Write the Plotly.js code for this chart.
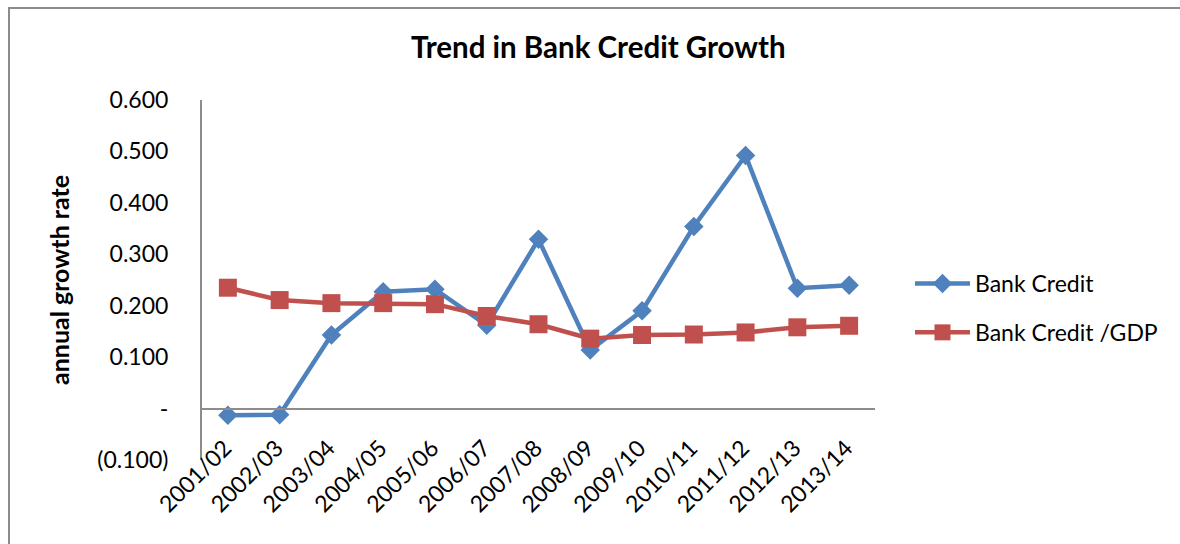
<!DOCTYPE html>
<html>
<head>
<meta charset="utf-8">
<script src="https://cdn.plot.ly/plotly-3.0.1.min.js"></script>
<style>
  html, body { margin: 0; padding: 0; background: #fff; }
  #wrap { position: relative; width: 1180px; height: 544px; overflow: hidden; }
  #chart { position: absolute; left: 0; top: 0; width: 1180px; height: 544px; }
  #frame { position: absolute; left: 8px; top: 7px; width: 1200px; height: 600px;
           border-left: 2px solid #8c8c8c; border-top: 2px solid #8c8c8c; pointer-events: none; }
</style>
</head>
<body>
<div id="wrap">
  <div id="chart"></div>
  <div id="frame"></div>
</div>
<script>
const years = ["2001/02","2002/03","2003/04","2004/05","2005/06","2006/07","2007/08",
               "2008/09","2009/10","2010/11","2011/12","2012/13","2013/14"];
const bankCredit = [-0.013, -0.012, 0.143, 0.227, 0.232, 0.162, 0.329,
                    0.114, 0.190, 0.354, 0.492, 0.234, 0.240];
const bankCreditGDP = [0.235, 0.211, 0.205, 0.205, 0.203, 0.180, 0.164,
                       0.136, 0.143, 0.144, 0.148, 0.158, 0.161];
const yTickVals = [-0.1, 0, 0.1, 0.2, 0.3, 0.4, 0.5, 0.6];
const yTickText = ["(0.100)", "-", "0.100", "0.200", "0.300", "0.400", "0.500", "0.600"];

const font = "Lato, 'Open Sans', sans-serif";
const yMin = -0.1, yMax = 0.6;

const traces = [
  {
    x: years, y: bankCredit, name: "Bank Credit", type: "scatter", mode: "lines+markers",
    legendgroup: "a",
    line: { color: "#4F81BD", width: 4.5 },
    marker: { symbol: "diamond", size: 15, color: "#4F81BD" }
  },
  {
    x: years, y: bankCreditGDP, name: "Bank Credit /GDP", type: "scatter", mode: "lines+markers",
    legendgroup: "b",
    line: { color: "#C0504D", width: 4.5 },
    marker: { symbol: "square", size: 18, color: "#C0504D" }
  }
];

const layout = {
  width: 1180, height: 544,
  margin: { l: 202, r: 305, t: 100, b: 84 },
  paper_bgcolor: "#fff", plot_bgcolor: "#fff",
  font: { family: font, size: 23, color: "#000" },
  title: {
    text: "<b>Trend in Bank Credit Growth</b>",
    font: { family: font, size: 29.5, color: "#000" },
    xref: "container", x: 0.507, xanchor: "center",
    yref: "container", y: 0.913, yanchor: "middle"
  },
  showlegend: true,
  legend: {
    x: 1.052, xanchor: "left", y: 0.55, yanchor: "top",
    font: { family: font, size: 23, color: "#000" },
    traceorder: "grouped", tracegroupgap: 16,
    itemwidth: 55,
    bgcolor: "rgba(0,0,0,0)"
  },
  xaxis: {
    type: "category",
    anchor: "free", position: (0 - yMin) / (yMax - yMin),
    showgrid: false, zeroline: false,
    showline: true, linecolor: "#8c8c8c", linewidth: 2,
    ticks: "", tickangle: -45,
    tickfont: { family: font, size: 23, color: "#000" },
    range: [-0.5, 12.5],
    fixedrange: true
  },
  yaxis: {
    range: [yMin, yMax],
    tickvals: yTickVals, ticktext: yTickText,
    showgrid: false, zeroline: false,
    showline: true, linecolor: "#8c8c8c", linewidth: 2,
    ticks: "", ticklabelstandoff: 27,
    tickfont: { family: font, size: 23, color: "#000" },
    title: { text: "<b>annual growth rate</b>", font: { family: font, size: 25, color: "#000" }, standoff: 21 },
    fixedrange: true
  }
};

Plotly.newPlot("chart", traces, layout, { displayModeBar: false, staticPlot: true }).then(function (gd) {
  // Excel-like gap between the category axis line (drawn at zero) and its labels
  gd.querySelectorAll("g.xtick").forEach(function (g) {
    const t = g.getAttribute("transform") || "";
    g.setAttribute("transform", t + " translate(-3,16)");
  });
});
</script>
</body>
</html>
